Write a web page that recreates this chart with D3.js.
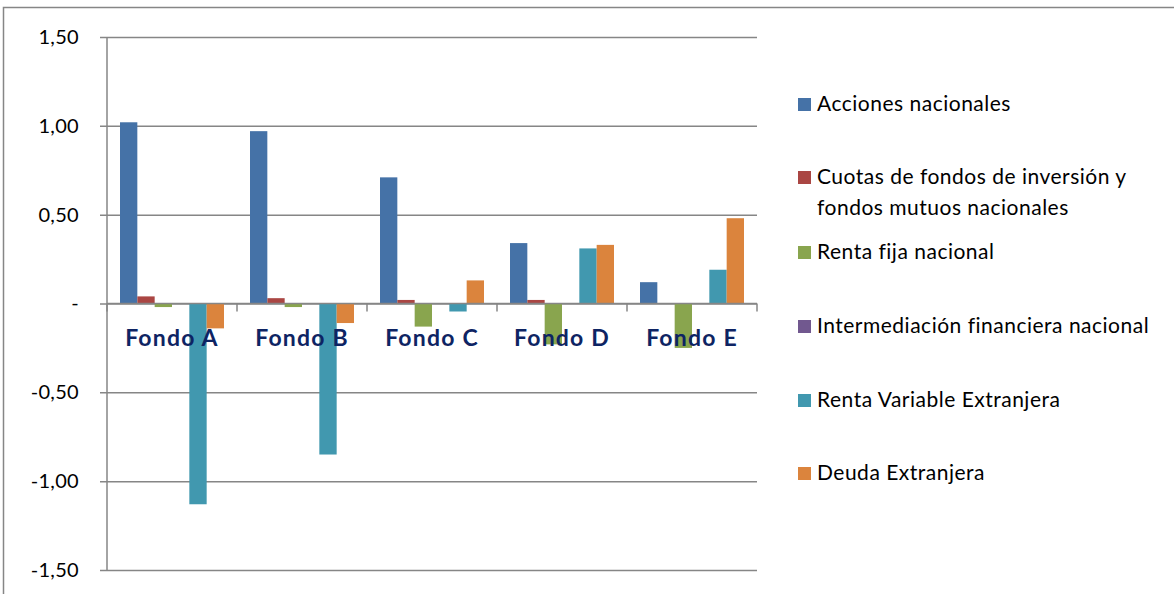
<!DOCTYPE html>
<html>
<head>
<meta charset="utf-8">
<script src="https://cdn.jsdelivr.net/npm/d3@7"></script>
<style>
  html, body { margin: 0; padding: 0; background: #fff; }
  svg { display: block; }
</style>
</head>
<body>
<div id="chart"></div>
<script>
// data
const categories = ["Fondo A", "Fondo B", "Fondo C", "Fondo D", "Fondo E"];
const seriesNames = [
  "Acciones nacionales",
  "Cuotas de fondos de inversión y fondos mutuos nacionales",
  "Renta fija nacional",
  "Intermediación financiera nacional",
  "Renta Variable Extranjera",
  "Deuda Extranjera"
];
const accionesNacionales   = [1.02, 0.97, 0.71, 0.34, 0.12];
const cuotasFondos         = [0.04, 0.03, 0.02, 0.02, 0.00];
const rentaFijaNacional    = [-0.02, -0.02, -0.13, -0.23, -0.25];
const intermediacion       = [0.00, 0.00, 0.00, 0.00, 0.00];
const rentaVariableExt     = [-1.13, -0.85, -0.045, 0.31, 0.19];
const deudaExtranjera      = [-0.14, -0.11, 0.13, 0.33, 0.48];
const tickValues = [1.5, 1.0, 0.5, 0, -0.5, -1.0, -1.5];
const tickLabels = ["1,50", "1,00", "0,50", "-", "-0,50", "-1,00", "-1,50"];

const seriesValues = [accionesNacionales, cuotasFondos, rentaFijaNacional,
                      intermediacion, rentaVariableExt, deudaExtranjera];
const colors = ["#4572A7", "#AA4643", "#89A54E", "#71588F", "#4198AF", "#DB843D"];

const cfg = {
  width: 1174,
  height: 594,
  plot: { left: 107, right: 757, top: 37, bottom: 570 },
  grid: "#868686",
  font: "Lato, 'Open Sans', sans-serif"
};

const svg = d3.select("#chart")
  .append("svg")
  .attr("width", cfg.width)
  .attr("height", cfg.height);

// outer chart frame (cut off on the right and bottom)
svg.append("rect")
  .attr("x", 3.5).attr("y", 7.5)
  .attr("width", cfg.width + 20).attr("height", cfg.height + 20)
  .attr("fill", "none")
  .attr("stroke", cfg.grid)
  .attr("stroke-width", 1.5);

const x = d3.scaleBand()
  .domain(categories)
  .range([cfg.plot.left, cfg.plot.right])
  .padding(0);

// Excel style gap width of 150%
const gap = x.bandwidth() / (seriesNames.length + 1.5) * 0.75;
const xs = d3.scaleBand()
  .domain(d3.range(seriesNames.length))
  .range([gap, x.bandwidth() - gap])
  .padding(0);

const y = d3.scaleLinear()
  .domain([-1.5, 1.5])
  .range([cfg.plot.bottom, cfg.plot.top]);

// gridlines with the left tick stubs
const yAxis = svg.append("g")
  .attr("transform", "translate(" + cfg.plot.left + ",0)")
  .call(d3.axisLeft(y)
    .tickValues(tickValues)
    .tickSize(-(cfg.plot.right - cfg.plot.left))
    .tickSizeOuter(0)
    .tickPadding(28)
    .tickFormat((d, i) => tickLabels[i]));
yAxis.select(".domain").remove();
yAxis.selectAll(".tick line")
  .attr("x1", -7)
  .attr("stroke", cfg.grid)
  .attr("stroke-width", 1.5);
yAxis.selectAll(".tick text")
  .attr("font-family", cfg.font)
  .attr("font-size", 20)
  .attr("letter-spacing", 0.3)
  .attr("fill", "#000");

// bars
const groups = svg.append("g")
  .selectAll("g")
  .data(seriesValues)
  .join("g")
  .attr("fill", (d, i) => colors[i]);

groups.each(function (vals, si) {
  d3.select(this).selectAll("rect")
    .data(vals)
    .join("rect")
    .attr("x", (d, i) => x(categories[i]) + xs(si))
    .attr("width", xs.bandwidth())
    .attr("y", d => y(Math.max(0, d)))
    .attr("height", d => Math.abs(y(d) - y(0)));
});

// left axis line
svg.append("line")
  .attr("x1", cfg.plot.left).attr("x2", cfg.plot.left)
  .attr("y1", cfg.plot.top).attr("y2", cfg.plot.bottom)
  .attr("stroke", cfg.grid)
  .attr("stroke-width", 1.5);

// category axis on zero, ticks between categories
const xAxis = svg.append("g")
  .attr("transform", "translate(0," + y(0) + ")");
xAxis.append("line")
  .attr("x1", cfg.plot.left).attr("x2", cfg.plot.right)
  .attr("stroke", cfg.grid)
  .attr("stroke-width", 1.5);
xAxis.selectAll(".sep")
  .data(categories.concat([null]))
  .join("line")
  .attr("class", "sep")
  .attr("x1", (d, i) => i < categories.length ? x(d) : cfg.plot.right)
  .attr("x2", (d, i) => i < categories.length ? x(d) : cfg.plot.right)
  .attr("y1", 0).attr("y2", 8)
  .attr("stroke", cfg.grid)
  .attr("stroke-width", 1.5);
xAxis.selectAll(".cat")
  .data(categories)
  .join("text")
  .attr("class", "cat")
  .attr("x", d => x(d) + x.bandwidth() / 2)
  .attr("y", 42)
  .attr("text-anchor", "middle")
  .attr("font-family", cfg.font)
  .attr("font-weight", "bold")
  .attr("font-size", 23)
  .attr("letter-spacing", 1.2)
  .attr("fill", "#0E2463")
  .text(d => d);

// legend
const legendRows = [
  { lines: ["Acciones nacionales"], y: 111 },
  { lines: ["Cuotas de fondos de inversión y", "fondos mutuos nacionales"], y: 184 },
  { lines: ["Renta fija nacional"], y: 259 },
  { lines: ["Intermediación financiera nacional"], y: 333 },
  { lines: ["Renta Variable Extranjera"], y: 407 },
  { lines: ["Deuda Extranjera"], y: 480 }
];
const legend = svg.append("g")
  .selectAll("g")
  .data(legendRows)
  .join("g")
  .attr("transform", d => "translate(798," + d.y + ")");
legend.append("rect")
  .attr("x", 0).attr("y", -13)
  .attr("width", 13).attr("height", 13)
  .attr("fill", (d, i) => colors[i]);
legend.append("text")
  .attr("x", 19)
  .attr("font-family", cfg.font)
  .attr("font-size", 21)
  .attr("letter-spacing", 0.5)
  .attr("fill", "#000")
  .selectAll("tspan")
  .data(d => d.lines)
  .join("tspan")
  .attr("x", 19)
  .attr("dy", (d, i) => i === 0 ? 0 : 31)
  .text(d => d);
</script>
</body>
</html>
